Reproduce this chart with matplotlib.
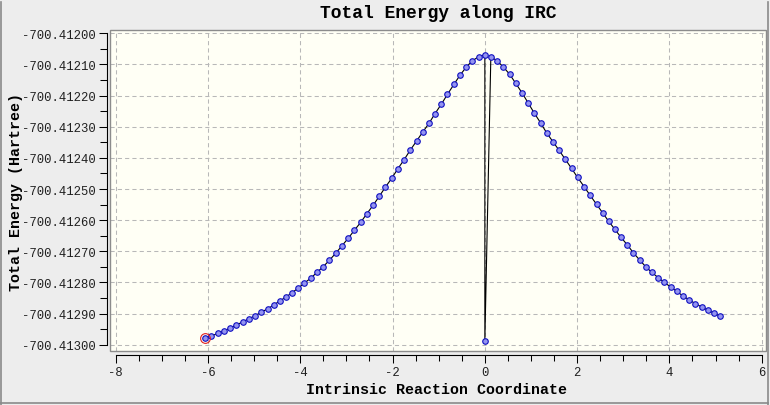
import matplotlib
matplotlib.use("Agg")
import matplotlib.pyplot as plt
from matplotlib.patches import Rectangle
from matplotlib.lines import Line2D
from matplotlib.ticker import MultipleLocator, FormatStrFormatter

# IRC data, reverse direction (reactant side) ending at the TS
reverse_coord = [-6.06, -5.93, -5.79, -5.66, -5.52, -5.39, -5.25, -5.12, -4.98, -4.85,
                 -4.71, -4.58, -4.45, -4.31, -4.18, -4.04, -3.91, -3.77, -3.64, -3.50,
                 -3.37, -3.23, -3.10, -2.96, -2.83, -2.69, -2.56, -2.42, -2.29, -2.16,
                 -2.02, -1.89, -1.75, -1.62, -1.48, -1.35, -1.21, -1.08, -0.94, -0.81,
                 -0.67, -0.54, -0.40, -0.27, -0.13, 0.00]
reverse_energy = [-700.412980, -700.412972, -700.412964, -700.412956, -700.412947,
                  -700.412937, -700.412927, -700.412917, -700.412907, -700.412896,
                  -700.412885, -700.412873, -700.412860, -700.412847, -700.412833,
                  -700.412818, -700.412802, -700.412786, -700.412768, -700.412749,
                  -700.412729, -700.412706, -700.412683, -700.412658, -700.412633,
                  -700.412607, -700.412580, -700.412552, -700.412524, -700.412495,
                  -700.412466, -700.412436, -700.412406, -700.412376, -700.412346,
                  -700.412318, -700.412289, -700.412258, -700.412227, -700.412196,
                  -700.412164, -700.412135, -700.412108, -700.412088, -700.412075,
                  -700.412069]

# odd point sitting at coordinate 0
extra_coord = [0.00]
extra_energy = [-700.412987]

# forward direction
forward_coord = [0.13, 0.27, 0.40, 0.54, 0.67, 0.81, 0.94, 1.07, 1.21, 1.34,
                 1.48, 1.61, 1.74, 1.88, 2.01, 2.15, 2.28, 2.42, 2.55, 2.68,
                 2.82, 2.95, 3.09, 3.22, 3.36, 3.49, 3.62, 3.76, 3.89, 4.03,
                 4.16, 4.29, 4.43, 4.56, 4.70, 4.83, 4.97, 5.10]
forward_energy = [-700.412075, -700.412089, -700.412108, -700.412132, -700.412161,
                  -700.412192, -700.412224, -700.412256, -700.412288, -700.412320,
                  -700.412349, -700.412376, -700.412404, -700.412434, -700.412463,
                  -700.412492, -700.412520, -700.412549, -700.412576, -700.412603,
                  -700.412630, -700.412655, -700.412680, -700.412705, -700.412729,
                  -700.412750, -700.412768, -700.412785, -700.412800, -700.412815,
                  -700.412829, -700.412843, -700.412856, -700.412868, -700.412879,
                  -700.412889, -700.412899, -700.412909]

# the point that is highlighted with a red ring
selected = 0

W, H = 770, 406
plt.rcParams['axes.unicode_minus'] = False
mono = ['Liberation Mono', 'DejaVu Sans Mono']

fig = plt.figure(figsize=(W / 100, H / 100), dpi=100)
fig.patch.set_facecolor('#ededed')

# plot area in pixels: x 110..766, y 31..352
ax = fig.add_axes([110 / W, 1 - 352 / H, 656 / W, 321 / H])
ax.set_facecolor('#fffff5')

coords = reverse_coord + extra_coord + forward_coord
energies = reverse_energy + extra_energy + forward_energy

ax.plot(coords, energies, color='black', linewidth=0.8, zorder=3)
ax.plot(coords, energies, linestyle='none', marker='o', markersize=4.0,
        markerfacecolor='#9494f0', markeredgecolor='#1010c0', markeredgewidth=0.8, zorder=4)
ax.plot(coords[selected], energies[selected], linestyle='none', marker='o', markersize=7,
        markerfacecolor='none', markeredgecolor='#e02020', markeredgewidth=0.8, zorder=5)

# keep a little padding round the data range like the original viewer
ax.set_xlim(-8 - 5.7 / 46.14, 6 + 4.3 / 46.14)
ax.set_ylim(-700.413 - 6.3 * 3.211e-6, -700.412 + 3.3 * 3.211e-6)

ax.xaxis.set_major_locator(MultipleLocator(2))
ax.xaxis.set_minor_locator(MultipleLocator(0.5))
ax.yaxis.set_major_locator(MultipleLocator(0.0001))
ax.yaxis.set_minor_locator(MultipleLocator(0.00005))
ax.yaxis.set_major_formatter(FormatStrFormatter('%.5f'))
ax.xaxis.set_major_formatter(FormatStrFormatter('%d'))

ax.grid(True, which='major', linestyle=(0, (4, 3)), color='#b8b8b8', linewidth=0.75, zorder=1)
ax.set_axisbelow(True)

# detached axis lines
for side in ['top', 'right']:
    ax.spines[side].set_visible(False)
ax.spines['left'].set_position(('outward', 2.2))
ax.spines['bottom'].set_position(('outward', 2.7))
ax.spines['left'].set_bounds(-700.413, -700.412)
ax.spines['bottom'].set_bounds(-8, 6)
for side in ['left', 'bottom']:
    ax.spines[side].set_linewidth(0.8)
    ax.spines[side].set_color('black')

ax.add_patch(Rectangle((0, 0), 1, 1, transform=ax.transAxes, fill=False,
                       edgecolor='#8c8c8c', linewidth=1.0, clip_on=False, zorder=6))

ax.tick_params(which='major', direction='out', length=5.8, width=0.75, color='black', pad=2)
ax.tick_params(which='minor', direction='out', length=4.0, width=0.75, color='black')
ax.tick_params(axis='y', which='minor', length=5.0)
for lab in ax.get_xticklabels() + ax.get_yticklabels():
    lab.set_family(mono)
    lab.set_fontsize(8.8)
    lab.set_color('#202020')

fig.text(438 / W, 1 - 14 / H, 'Total Energy along IRC', ha='center', va='center',
         family=mono, fontweight='bold', fontsize=13)
fig.text(437 / W, 1 - 390 / H, 'Intrinsic Reaction Coordinate', ha='center', va='center',
         family=mono, fontweight='bold', fontsize=10.8)
fig.text(16 / W, 1 - 192 / H, 'Total Energy (Hartree)', ha='center', va='center',
         rotation=90, family=mono, fontweight='bold', fontsize=10.8)

# window border
for xs, ys in [([0.5, 0.5], [0, H - 2.5]), ([W - 2, W - 2], [0, H - 2.5]), ([0, W - 2], [2.5, 2.5])]:
    fig.add_artist(Line2D([x / W for x in xs], [y / H for y in ys], color='#8a8a8a', linewidth=1.2))

fig.savefig('out.png', dpi=100, facecolor=fig.get_facecolor())
